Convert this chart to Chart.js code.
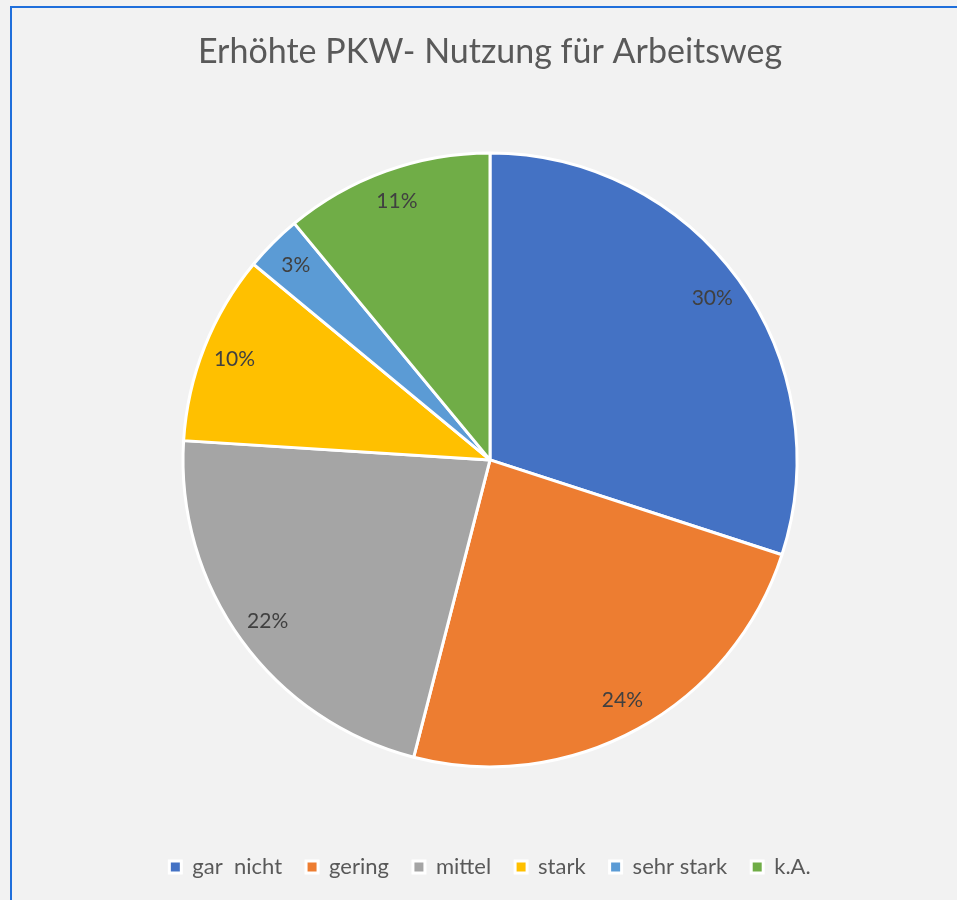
<!DOCTYPE html>
<html lang="de">
<head>
<meta charset="utf-8">
<title>Erhöhte PKW- Nutzung für Arbeitsweg</title>
<script src="https://cdn.jsdelivr.net/npm/chart.js@4/dist/chart.umd.min.js"></script>
<style>
  html, body { margin: 0; padding: 0; background: #f2f2f2; overflow: hidden; }
  #frame {
    position: absolute; left: 10px; top: 6px; width: 1000px; height: 1000px;
    border: 2px solid #1f6fdb; box-sizing: border-box;
  }
  #chart { position: absolute; left: 0; top: 0; }
</style>
</head>
<body>
<div id="frame"></div>
<canvas id="chart" width="957" height="900"></canvas>
<script>
const categories = ['gar  nicht', 'gering', 'mittel', 'stark', 'sehr stark', 'k.A.'];
const shares = [30, 24, 22, 10, 3, 11];
const sliceColors = ['#4472c4', '#ed7d31', '#a5a5a5', '#ffc000', '#5b9bd5', '#70ad47'];

// percent labels near the rim of each slice
const sliceLabels = {
    id: 'sliceLabels',
    afterDatasetsDraw(chart) {
        const ctx = chart.ctx;
        const meta = chart.getDatasetMeta(0);
        ctx.save();
        ctx.font = '21px Lato';
        ctx.fillStyle = '#404040';
        ctx.textAlign = 'center';
        ctx.textBaseline = 'middle';
        meta.data.forEach((arc, i) => {
            const p = arc.getProps(['x', 'y', 'startAngle', 'endAngle', 'outerRadius'], true);
            const mid = (p.startAngle + p.endAngle) / 2;
            const r = p.outerRadius * 0.895;
            ctx.fillText(shares[i] + '%', p.x + Math.cos(mid) * r, p.y + Math.sin(mid) * r);
        });
        ctx.restore();
    }
};

new Chart(document.getElementById('chart'), {
    type: 'pie',
    data: {
        labels: categories,
        datasets: [{
            data: shares,
            backgroundColor: sliceColors,
            borderColor: '#ffffff',
            borderWidth: 3,
            radius: 307
        }]
    },
    options: {
        responsive: false,
        animation: false,
        layout: { padding: { left: 23, right: 0, top: 0, bottom: 12 } },
        plugins: {
            tooltip: { enabled: false },
            title: {
                display: true,
                text: 'Erhöhte PKW- Nutzung für Arbeitsweg',
                color: '#595959',
                font: { family: 'Lato', size: 34, weight: 'normal' },
                padding: { top: 32, bottom: 15 }
            },
            legend: {
                position: 'bottom',
                labels: {
                    color: '#595959',
                    font: { family: 'Lato', size: 22 },
                    boxWidth: 12,
                    boxHeight: 12,
                    padding: 24
                }
            }
        }
    },
    plugins: [sliceLabels]
});
</script>
</body>
</html>
